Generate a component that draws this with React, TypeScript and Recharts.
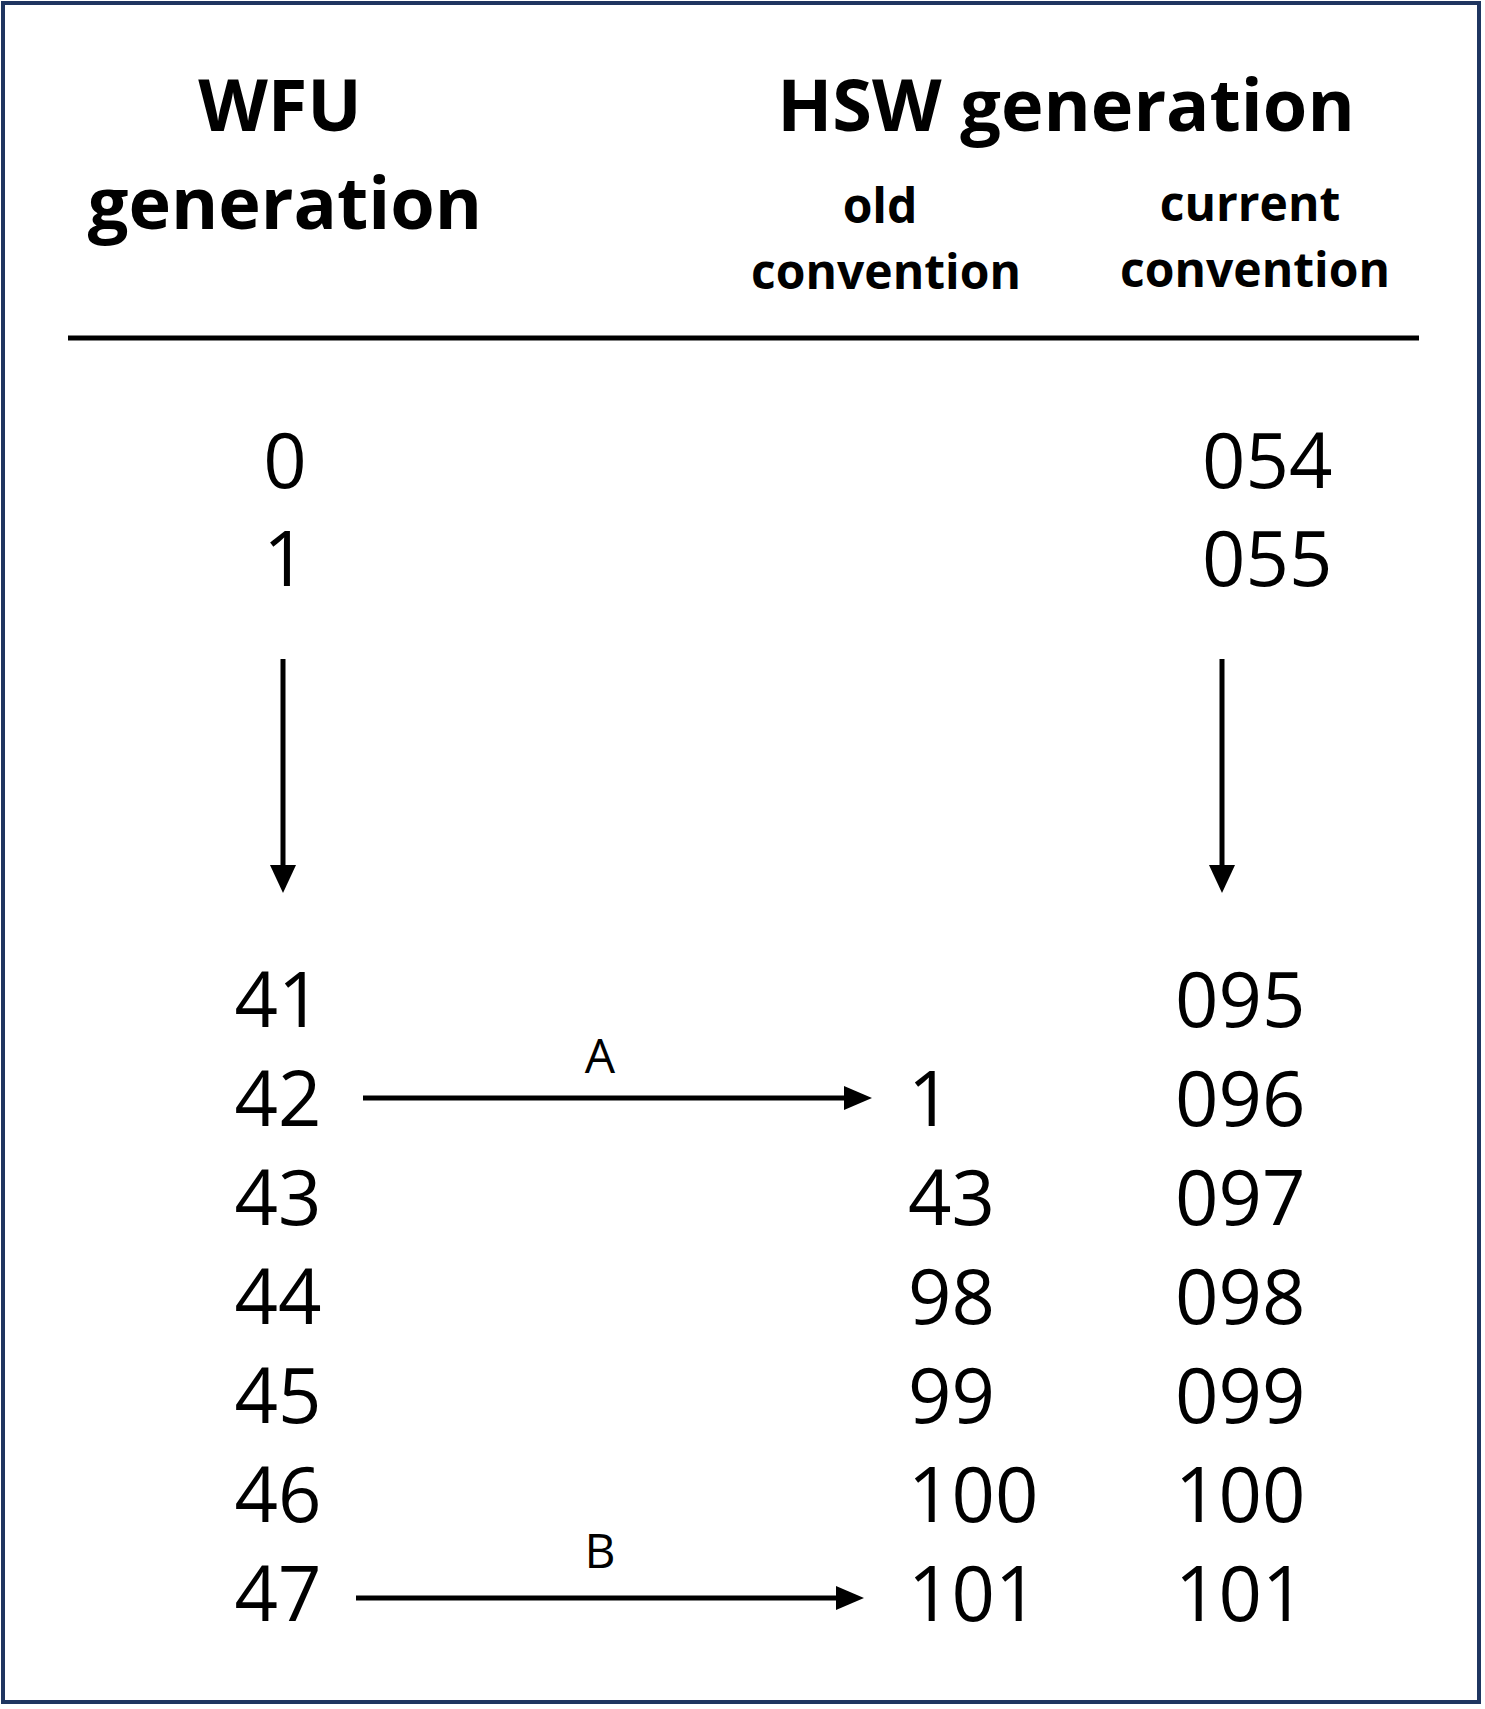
import { ComposedChart, XAxis, YAxis, Scatter, ReferenceLine, ReferenceArea } from 'recharts';

const W = 1485;
const H = 1709;

// table data
const wfuTop = ['0', '1'];
const currentTop = ['054', '055'];
const wfuBottom = ['41', '42', '43', '44', '45', '46', '47'];
const oldBottom = ['', '1', '43', '98', '99', '100', '101'];
const currentBottom = ['095', '096', '097', '098', '099', '100', '101'];
const transfers = [
  { label: 'A', row: 1 },
  { label: 'B', row: 6 },
];

const FONT = '"Open Sans", "Noto Sans", sans-serif';
const NUM = 76;

type T = { x: number; y: number; label: string; size: number; weight: number; anchor: string };

const texts: T[] = [
  { x: 280, y: 131, label: 'WFU', size: 72, weight: 700, anchor: 'middle' },
  { x: 285, y: 229, label: 'generation', size: 72, weight: 700, anchor: 'middle' },
  { x: 1066, y: 131, label: 'HSW generation', size: 72, weight: 700, anchor: 'middle' },
  { x: 880, y: 223, label: 'old', size: 48, weight: 700, anchor: 'middle' },
  { x: 886, y: 289, label: 'convention', size: 48, weight: 700, anchor: 'middle' },
  { x: 1250, y: 221, label: 'current', size: 48, weight: 700, anchor: 'middle' },
  { x: 1255, y: 287, label: 'convention', size: 48, weight: 700, anchor: 'middle' },
];
wfuTop.forEach((v, i) => {
  texts.push({ x: 285, y: 488 + i * 98, label: v, size: NUM, weight: 400, anchor: 'middle' });
  texts.push({ x: 1202, y: 488 + i * 98, label: currentTop[i], size: NUM, weight: 400, anchor: 'start' });
});
wfuBottom.forEach((v, i) => {
  const y = 1027 + i * 99;
  texts.push({ x: 278, y, label: v, size: NUM, weight: 400, anchor: 'middle' });
  texts.push({ x: 908, y, label: oldBottom[i], size: NUM, weight: 400, anchor: 'start' });
  texts.push({ x: 1175, y, label: currentBottom[i], size: NUM, weight: 400, anchor: 'start' });
});
transfers.forEach((t) => {
  texts.push({ x: 600, y: 1027 + t.row * 99 + 46 - 99 + 0, label: t.label, size: 48, weight: 400, anchor: 'middle' });
});

// arrows: dir 'down' or 'right', tip position
const arrows = [
  { x1: 283, y1: 659, x2: 283, y2: 893, dir: 'down' },
  { x1: 1222, y1: 659, x2: 1222, y2: 893, dir: 'down' },
  ...transfers.map((t, i) => ({
    x1: i === 0 ? 363 : 356,
    y1: 1098 + (t.row - 1) * 100,
    x2: i === 0 ? 872 : 864,
    y2: 1098 + (t.row - 1) * 100,
    dir: 'right',
  })),
];
const HEAD = 28;
const heads = arrows.map((a) => ({ x: a.x2, y: a.y2, dir: a.dir }));

const TextShape = (props: any) => {
  const p = props.payload as T;
  return (
    <text x={props.cx} y={props.cy} textAnchor={p.anchor} fontSize={p.size} fontWeight={p.weight} fontFamily={FONT} fill="#000">
      {p.label}
    </text>
  );
};

const HeadShape = (props: any) => {
  const { cx, cy, payload } = props;
  const pts =
    payload.dir === 'down'
      ? `${cx - 13},${cy - HEAD} ${cx + 13},${cy - HEAD} ${cx},${cy}`
      : `${cx - HEAD},${cy - 12} ${cx - HEAD},${cy + 12} ${cx},${cy}`;
  return <polygon points={pts} fill="#000" />;
};

export default function App() {
  return (
    <div style={{ position: 'absolute', left: 0, top: 0, background: '#fff' }}>
      <ComposedChart width={W} height={H} margin={{ top: 0, right: 0, bottom: 0, left: 0 }}>
        <XAxis type="number" dataKey="x" domain={[0, W]} hide />
        <YAxis type="number" dataKey="y" domain={[0, H]} reversed hide />
        <ReferenceArea x1={3} x2={1479} y1={3} y2={1702} fill="none" stroke="#1f3560" strokeWidth={4} ifOverflow="visible" />
        <ReferenceLine segment={[{ x: 68, y: 338 }, { x: 1419, y: 338 }]} stroke="#000" strokeWidth={5} ifOverflow="visible" />
        {arrows.map((a, i) => (
          <ReferenceLine
            key={i}
            segment={[
              { x: a.x1, y: a.y1 },
              a.dir === 'down' ? { x: a.x2, y: a.y2 - HEAD + 2 } : { x: a.x2 - HEAD + 2, y: a.y2 },
            ]}
            stroke="#000"
            strokeWidth={5}
            ifOverflow="visible"
          />
        ))}
        <Scatter data={heads} shape={HeadShape} isAnimationActive={false} />
        <Scatter data={texts} shape={TextShape} isAnimationActive={false} />
      </ComposedChart>
    </div>
  );
}
